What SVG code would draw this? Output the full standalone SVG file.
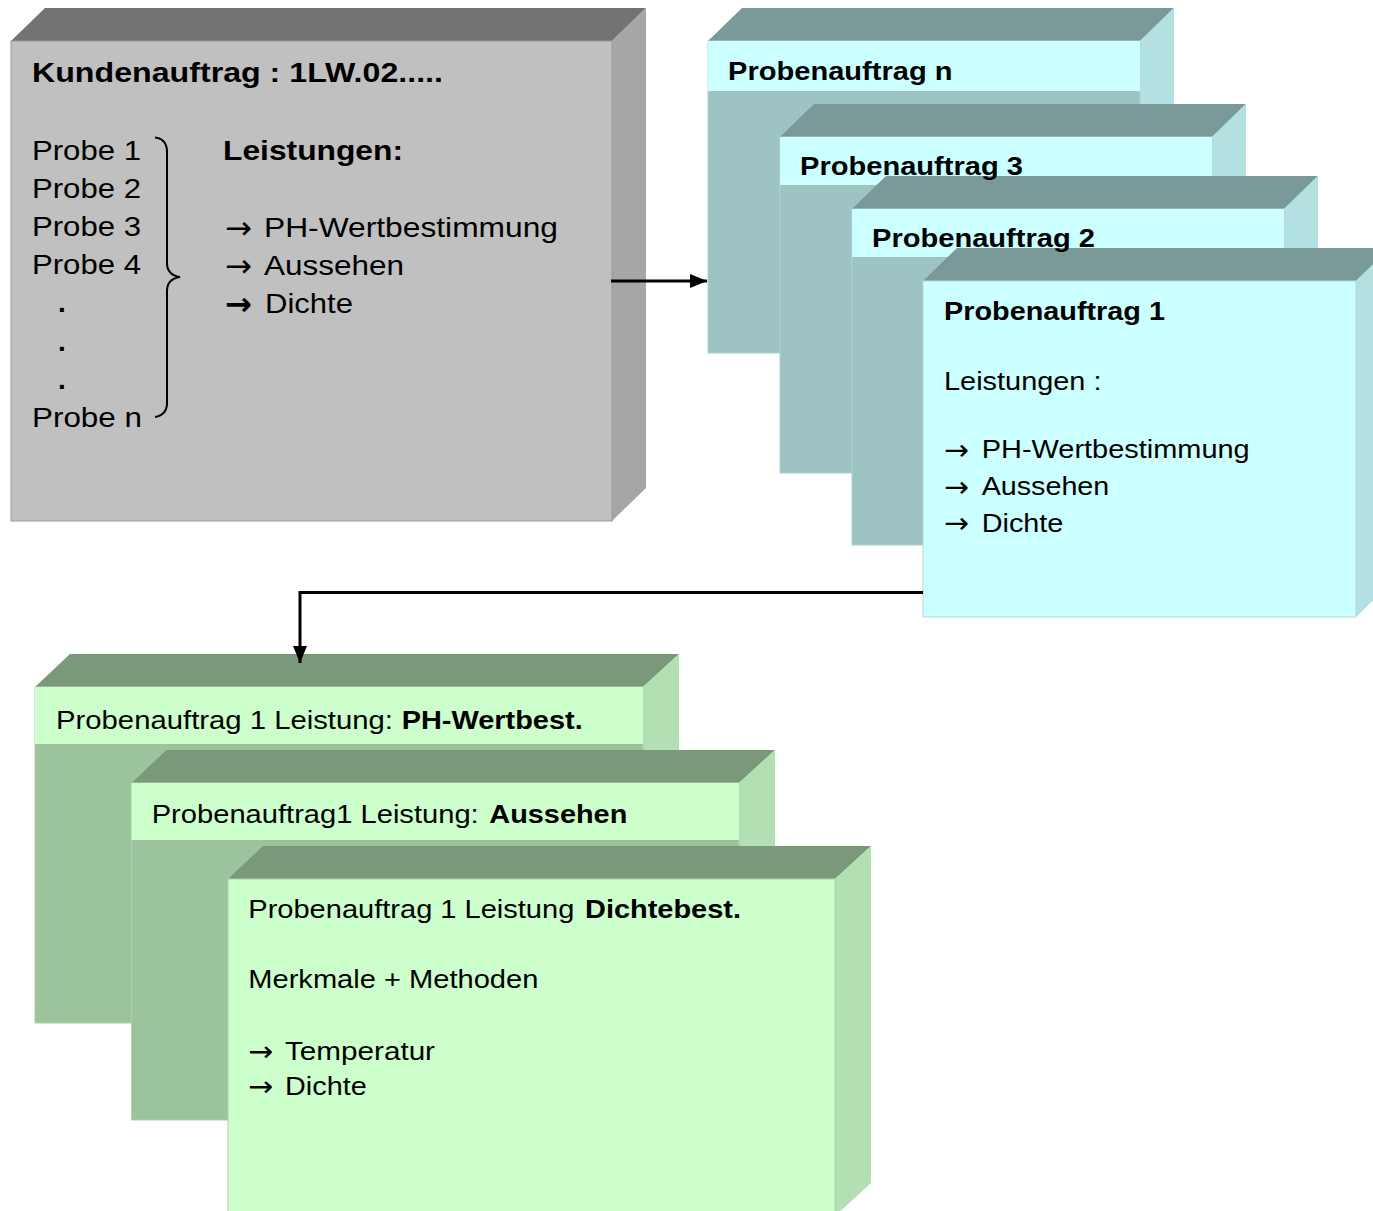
<svg xmlns="http://www.w3.org/2000/svg" width="1373" height="1211" viewBox="0 0 1373 1211">
<style>
text{font-family:"Liberation Sans",Arial,Helvetica,sans-serif;fill:#000}
.g28{font-size:28px}
.g26{font-size:26px}
.b{font-weight:bold}
.ar{font-family:"DejaVu Sans","Liberation Sans",sans-serif}
.gtop{fill:#737373}.gright{fill:#A6A6A6}.gfront{fill:#C0C0C0;stroke:#9a9a9a;stroke-width:1}
.ttop{fill:#7A9999}.tright{fill:#B3E0E0}.tshade{fill:#9DC3C3;stroke:#B0D2D2;stroke-width:1}.thead{fill:#CCFFFF}
.etop{fill:#7A997A}.eright{fill:#B3E0B3}.eshade{fill:#9CC49C;stroke:#ADD2AD;stroke-width:1}.ehead{fill:#CCFFCC}
.conn{fill:none;stroke:#000;stroke-width:3}
</style>
<defs>
<marker id="ah" markerUnits="userSpaceOnUse" markerWidth="17" markerHeight="14" viewBox="0 0 17 14" refX="17" refY="7" orient="auto">
<path d="M0,0 L17,7 L0,14 z" fill="#000"/>
</marker>
</defs>

<g id="kundenauftrag">
<polygon class="gtop" points="11,41 45,8 646,8 612,41"/>
<polygon class="gright" points="612,41 646,8 646,488 612,521"/>
<rect class="gfront" x="11" y="41" width="601" height="480"/>
<text class="g28 b" x="32" y="82" textLength="411" lengthAdjust="spacingAndGlyphs">Kundenauftrag : 1LW.02.....</text>
<text class="g28" x="32" y="159.5" textLength="109" lengthAdjust="spacingAndGlyphs">Probe 1</text>
<text class="g28" x="32" y="197.7" textLength="109" lengthAdjust="spacingAndGlyphs">Probe 2</text>
<text class="g28" x="32" y="235.9" textLength="109" lengthAdjust="spacingAndGlyphs">Probe 3</text>
<text class="g28" x="32" y="274.1" textLength="109" lengthAdjust="spacingAndGlyphs">Probe 4</text>
<text class="g28 b" x="58" y="312.3">.</text>
<text class="g28 b" x="58" y="350.5">.</text>
<text class="g28 b" x="58" y="388.7">.</text>
<text class="g28" x="32" y="426.7" textLength="110" lengthAdjust="spacingAndGlyphs">Probe n</text>
<path d="M155,137.5 Q167,139 167,152 L167,263 Q167,275 180,277 Q167,279 167,291 L167,403 Q167,415 155,417" fill="none" stroke="#000" stroke-width="2"/>
<text class="g28 b" x="223" y="160" textLength="180" lengthAdjust="spacingAndGlyphs">Leistungen:</text>
<text class="ar" font-size="32" x="225" y="238.5" textLength="27" lengthAdjust="spacingAndGlyphs">→</text>
<text class="g28" x="264" y="236.5" textLength="294" lengthAdjust="spacingAndGlyphs">PH-Wertbestimmung</text>
<text class="ar" font-size="32" x="225" y="276.8" textLength="27" lengthAdjust="spacingAndGlyphs">→</text>
<text class="g28" x="264" y="274.8" textLength="140" lengthAdjust="spacingAndGlyphs">Aussehen</text>
<text class="ar b" font-size="32" x="225" y="314.8" textLength="27" lengthAdjust="spacingAndGlyphs">→</text>
<text class="g28" x="265" y="312.8" textLength="88" lengthAdjust="spacingAndGlyphs">Dichte</text>
</g>

<g id="probenauftrag-n">
<polygon class="ttop" points="708,41 742,8 1174,8 1140,41"/>
<polygon class="tright" points="1140,41 1174,8 1174,320 1140,353"/>
<rect class="tshade" x="708" y="41" width="432" height="312"/>
<rect class="thead" x="708" y="41" width="432" height="50"/>
<text class="g26 b" x="728" y="80" textLength="224.6" lengthAdjust="spacingAndGlyphs">Probenauftrag n</text>
</g>

<g id="probenauftrag-3">
<polygon class="ttop" points="780,137 814,104 1246,104 1212,137"/>
<polygon class="tright" points="1212,137 1246,104 1246,440 1212,473"/>
<rect class="tshade" x="780" y="137" width="432" height="336"/>
<rect class="thead" x="780" y="137" width="432" height="48"/>
</g>

<g id="probenauftrag-2">
<polygon class="ttop" points="852,209 886,176 1318,176 1284,209"/>
<polygon class="tright" points="1284,209 1318,176 1318,512 1284,545"/>
<rect class="tshade" x="852" y="209" width="432" height="336"/>
<rect class="thead" x="852" y="209" width="432" height="48"/>
</g>

<g id="probenauftrag-1">
<polygon class="ttop" points="923,281 957,248 1390,248 1356,281"/>
<polygon class="tright" points="1356,281 1390,248 1390,584 1356,617"/>
<rect x="923" y="281" width="433" height="336" fill="#CCFFFF" stroke="#B5D8D8" stroke-width="1"/>
<text class="g26 b" x="944" y="320" textLength="221" lengthAdjust="spacingAndGlyphs">Probenauftrag 1</text>
<text class="g26" x="944" y="390" textLength="157.5" lengthAdjust="spacingAndGlyphs">Leistungen :</text>
<text class="ar" font-size="29" x="944" y="459.8" textLength="25" lengthAdjust="spacingAndGlyphs">→</text>
<text class="g26" x="981.7" y="458.3" textLength="268" lengthAdjust="spacingAndGlyphs">PH-Wertbestimmung</text>
<text class="ar" font-size="29" x="944" y="496.5" textLength="25" lengthAdjust="spacingAndGlyphs">→</text>
<text class="g26" x="981.7" y="495" textLength="127.6" lengthAdjust="spacingAndGlyphs">Aussehen</text>
<text class="ar" font-size="29" x="944" y="533.2" textLength="25" lengthAdjust="spacingAndGlyphs">→</text>
<text class="g26" x="981.7" y="531.7" textLength="81.7" lengthAdjust="spacingAndGlyphs">Dichte</text>
</g>

<g id="probenauftrag-3-label">
<text class="g26 b" x="800" y="175" textLength="223" lengthAdjust="spacingAndGlyphs">Probenauftrag 3</text>
</g>
<g id="probenauftrag-2-label">
<text class="g26 b" x="872" y="247.3" textLength="223" lengthAdjust="spacingAndGlyphs">Probenauftrag 2</text>
</g>

<g id="leistung-ph">
<polygon class="etop" points="35,687 70,654 679,654 643,687"/>
<polygon class="eright" points="643,687 679,654 679,990 643,1023"/>
<rect class="eshade" x="35" y="687" width="608" height="336"/>
<rect class="ehead" x="35" y="687" width="608" height="57"/>
<text class="g26" x="56" y="729.3" textLength="337" lengthAdjust="spacingAndGlyphs">Probenauftrag 1 Leistung:</text>
<text class="g26 b" x="401.7" y="729.3" textLength="181" lengthAdjust="spacingAndGlyphs">PH-Wertbest.</text>
</g>

<g id="leistung-aussehen">
<polygon class="etop" points="131.5,783 166.5,750 775,750 739,783"/>
<polygon class="eright" points="739,783 775,750 775,1087 739,1120"/>
<rect class="eshade" x="131.5" y="783" width="607.5" height="337"/>
<rect class="ehead" x="131.5" y="783" width="607.5" height="57"/>
<text class="g26" x="151.7" y="822.7" textLength="327" lengthAdjust="spacingAndGlyphs">Probenauftrag1 Leistung:</text>
<text class="g26 b" x="489.3" y="822.7" textLength="138" lengthAdjust="spacingAndGlyphs">Aussehen</text>
</g>

<g id="leistung-dichte">
<polygon class="etop" points="228,879 263,846 871,846 835,879"/>
<polygon class="eright" points="835,879 871,846 871,1183 835,1216"/>
<rect x="228" y="879" width="607" height="337" fill="#CCFFCC" stroke="#ADD2AD" stroke-width="1"/>
<text class="g26" x="248.3" y="918.3" textLength="326" lengthAdjust="spacingAndGlyphs">Probenauftrag 1 Leistung</text>
<text class="g26 b" x="585" y="918.3" textLength="156" lengthAdjust="spacingAndGlyphs">Dichtebest.</text>
<text class="g26" x="248.3" y="988.3" textLength="290" lengthAdjust="spacingAndGlyphs">Merkmale + Methoden</text>
<text class="ar" font-size="28" x="248.3" y="1061.3" textLength="25" lengthAdjust="spacingAndGlyphs">→</text>
<text class="g26" x="285" y="1060" textLength="150" lengthAdjust="spacingAndGlyphs">Temperatur</text>
<text class="ar" font-size="28" x="248.3" y="1096.3" textLength="25" lengthAdjust="spacingAndGlyphs">→</text>
<text class="g26" x="285" y="1095" textLength="81.7" lengthAdjust="spacingAndGlyphs">Dichte</text>
</g>

<g id="connectors">
<path class="conn" d="M611,281 H707" marker-end="url(#ah)"/>
<path class="conn" d="M923,592.5 H300 V663" marker-end="url(#ah)"/>
</g>
</svg>
